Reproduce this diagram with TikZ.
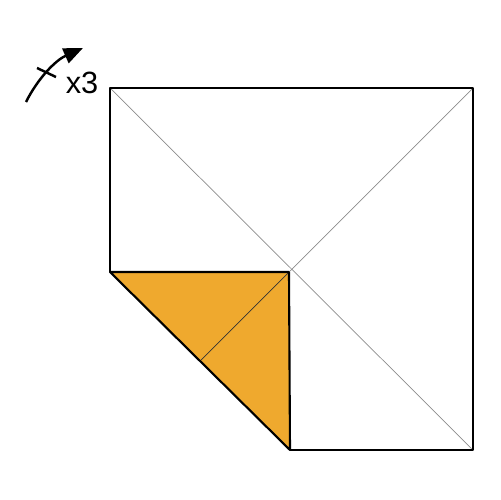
\documentclass[tikz,border=0pt]{standalone}
\usepackage{fontspec}
\setmainfont{Liberation Sans}
\usetikzlibrary{arrows.meta}
\definecolor{flaporange}{RGB}{239,169,46}

\begin{document}
\begin{tikzpicture}[x=0.02cm,y=-0.02cm]
      \useasboundingbox (0,0) rectangle (500,500);
      % creases
      \draw[black!45,line width=0.4pt] (110,88) -- (473,450);
      \draw[black!45,line width=0.4pt] (473,88) -- (290,271);
      % folded corner
      \fill[flaporange] (110,272) -- (289,272) -- (290,450) -- cycle;
      \draw[black!80,line width=0.4pt] (200,361) -- (289,272);
      % outline
      \draw[line width=1.2pt,line join=round] (110,272) -- (110,88) -- (473,88) -- (473,450) -- (290,450);
      \draw[line width=1.2pt,line join=round] (110,272) -- (289,272) -- (290,450) -- cycle;
      % repeat mark
      \draw[line width=1.4pt,-{Triangle[length=11pt,width=9pt]}] (26,102) .. controls (38,78) and (56,60) .. (83,48);
      \draw[line width=1.4pt] (37,68) -- (56,77);
      \node[font=\fontsize{17.5}{20}\selectfont,inner sep=0pt] (times) at (82,83) {x3};
\end{tikzpicture}
\end{document}
